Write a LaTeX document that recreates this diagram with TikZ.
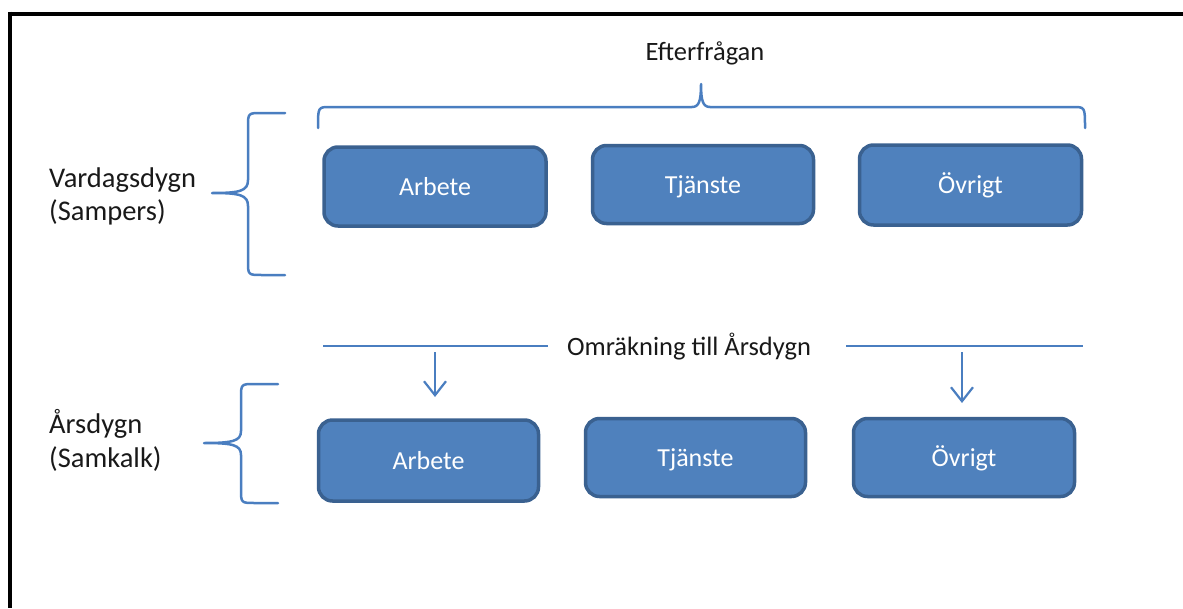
\documentclass[tikz,border=0pt]{standalone}
\usepackage{fontspec}
\setmainfont{Carlito}
\usetikzlibrary{arrows.meta}
\definecolor{boxfill}{HTML}{4F81BD}
\definecolor{boxedge}{HTML}{3A6190}
\definecolor{bracecol}{HTML}{4A7EC0}
\tikzset{
  box/.style={draw=boxedge, line width=3.5pt, fill=boxfill, rounded corners=14pt,
    text=white, font=\fontsize{26}{30}\selectfont, text height=17pt, text depth=0pt,
    inner sep=0pt},
  brace/.style={draw=bracecol, line width=2.5pt, line cap=round, line join=round},
  sidelabel/.style={anchor=base west, inner sep=0pt, font=\fontsize{28.5}{33}\selectfont, text=black!90},
  toplabel/.style={anchor=base, inner sep=0pt, font=\fontsize{26.5}{30}\selectfont, text=black!90},
  downarrow/.style={draw=bracecol, line width=2.2pt, -{Straight Barb[length=14pt,width=22pt]}},
  frameline/.style={draw=black, line width=4pt}
}
\begin{document}
\begin{tikzpicture}[x=1pt,y=-1pt]
\useasboundingbox (0,0) rectangle (1183,608);

% frame: top and left edges
\draw[frameline] (8,13.5) -- (1183,13.5);
\draw[frameline] (10,11.5) -- (10,608);

% top row of boxes
\node[box, minimum width=222pt, minimum height=79pt] (arb1) at (435,186.5) {Arbete};
\node[box, minimum width=221pt, minimum height=78pt] (tja1) at (703,184.5) {Tjänste};
\node[box, minimum width=222pt, minimum height=80pt] (ovr1) at (970.5,185) {Övrigt};

% bottom row of boxes
\node[box, minimum width=220pt, minimum height=81pt] (arb2) at (428.5,460.5) {Arbete};
\node[box, minimum width=220pt, minimum height=78pt] (tja2) at (695.5,457.5) {Tjänste};
\node[box, minimum width=221pt, minimum height=78pt] (ovr2) at (964,457.5) {Övrigt};

% headings
\node[toplabel] (eft) at (705,60) {Efterfrågan};
\node[sidelabel] (vd1) at (49,187) {Vardagsdygn};
\node[sidelabel] (vd2) at (49,220) {(Sampers)};
\node[sidelabel] (ar1) at (49,433) {Årsdygn};
\node[sidelabel] (ar2) at (49,467) {(Samkalk)};

% horizontal brace above the top row
\draw[brace] (318,128) .. controls (318,107) .. (330,107) -- (692,107)
  .. controls (699,107) and (701,101) .. (701,84)
  .. controls (701,101) and (703,107) .. (710,107) -- (1073,107)
  .. controls (1085,107) .. (1085,128);

% left brace, upper group
\draw[brace] (285,113) -- (262,113) .. controls (248,113) .. (248,127) -- (248,180)
  .. controls (248,191) and (240,193) .. (212,193)
  .. controls (240,193) and (248,195) .. (248,206) -- (248,261)
  .. controls (248,275) .. (262,275) -- (285,275);

% left brace, lower group
\draw[brace] (278,384) -- (255,384) .. controls (241,384) .. (241,398) -- (241,431)
  .. controls (241,441) and (233,443) .. (204,443)
  .. controls (233,443) and (241,445) .. (241,455) -- (241,489)
  .. controls (241,503) .. (255,503) -- (278,503);

% conversion line with its label
\node[toplabel] (omr) at (689,355) {Omräkning till Årsdygn};
\coordinate (l1) at (323,346);
\coordinate (l2) at (548,346);
\coordinate (r1) at (846,346);
\coordinate (r2) at (1083,346);
\draw[brace, line cap=butt] (l1) -- (l2);
\draw[brace, line cap=butt] (r1) -- (r2);

% arrows down to the lower row
\coordinate (a1s) at (435,352);
\coordinate (a1e) at (435,397);
\coordinate (a2s) at (962,352);
\coordinate (a2e) at (962,403);
\draw[downarrow] (a1s) -- (a1e);
\draw[downarrow] (a2s) -- (a2e);
\end{tikzpicture}
\end{document}
